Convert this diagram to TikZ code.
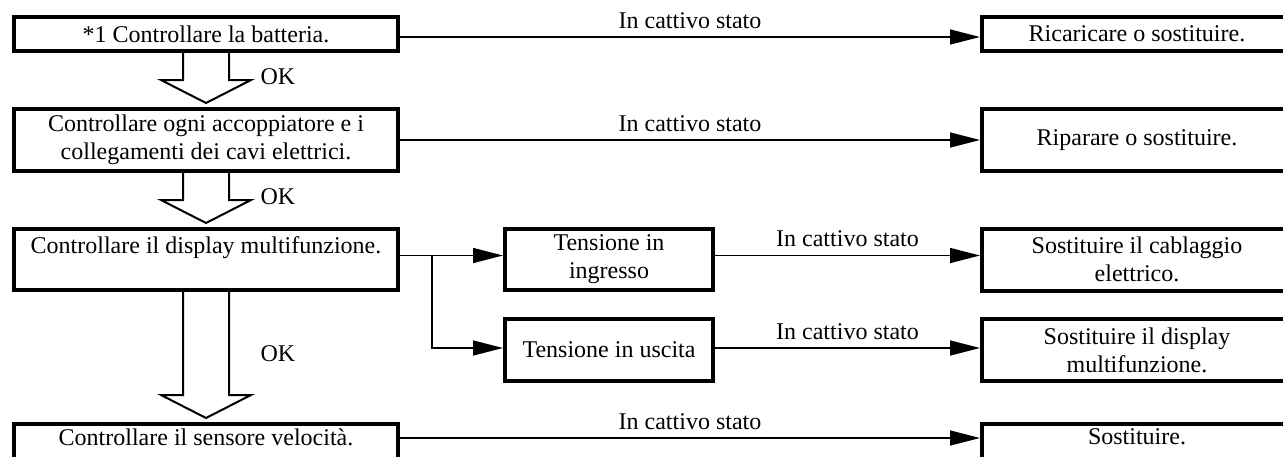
\documentclass[tikz,border=0pt]{standalone}
\usepackage{fontspec}
\setmainfont{Liberation Serif}
\usetikzlibrary{arrows.meta,calc,positioning}

% remedy boxes run off the right edge: text sits in the visible 310pt
\newcommand{\fixtext}[1]{\parbox{310pt}{\centering #1}\hspace{50pt}}
% last row runs off the bottom edge
\newcommand{\lowstrut}{\rule[-14pt]{0pt}{14pt}}

\tikzset{
  box/.style={draw, line width=4pt, inner sep=0pt, align=center, minimum height=34pt, font=\fontsize{24}{28}\selectfont},
  fixbox/.style={box, minimum width=360pt},
  flow/.style={line width=1.5pt, -{Triangle[length=30pt,width=15pt]}},
  bad/.style={midway, above=8pt, inner sep=0pt, font=\fontsize{24}{28}\selectfont},
  okarrow/.style={line width=2pt, line join=miter},
  oklabel/.style={inner sep=0pt, font=\fontsize{24}{28}\selectfont},
}

\begin{document}
\begin{tikzpicture}[x=1pt,y=-1pt]
\useasboundingbox (0,0) rectangle (1283,456);

% Checks (left column)
\node[box, minimum width=384pt] (chk1) at (206,34) {*1 Controllare la batteria.};
\node[box, minimum width=384pt, minimum height=62pt] (chk2) at (206,140) {Controllare ogni accoppiatore e i\\collegamenti dei cavi elettrici.};
\node[box, minimum width=384pt, minimum height=61pt] (chk3) at (206,259.5) {Controllare il display multifunzione.\\\mbox{}};
\node[box, minimum width=384pt, minimum height=40pt] (chk4) at (206,444) {Controllare il sensore velocità.\lowstrut};

% Voltage checks
\node[box, minimum width=208pt, minimum height=61pt] (tin) at (609,259.5) {Tensione in\\ingresso};
\node[box, minimum width=208pt, minimum height=62pt] (tout) at (609,350) {Tensione in uscita};

% Remedies (right column)
\node[fixbox] (fix1) at (1162,34) {\fixtext{Ricaricare o sostituire.}};
\node[fixbox, minimum height=62pt] (fix2) at (1162,140) {\fixtext{Riparare o sostituire.}};
\node[fixbox, minimum height=62pt] (fix3) at (1162,259.5) {\fixtext{Sostituire il cablaggio\\elettrico.}};
\node[fixbox, minimum height=62pt] (fix4) at (1162,350) {\fixtext{Sostituire il display\\multifunzione.}};
\node[fixbox, minimum height=40pt] (fix5) at (1162,444) {\fixtext{Sostituire.\lowstrut}};

% OK block arrows
\foreach \s/\t/\n in {chk1/chk2/1, chk2/chk3/2, chk3/chk4/3} {
  \draw[okarrow] ($(\s.south)+(-23,0)$) -- ($(\t.north)+(-23,-27)$) -- ($(\t.north)+(-45,-27)$)
    -- ($(\t.north)+(0,-4)$) -- ($(\t.north)+(45,-27)$) -- ($(\t.north)+(23,-27)$) -- ($(\s.south)+(23,0)$);
  \node[oklabel] (ok\n) at ($(\s.south)!0.5!(\t.north)+(72,-3)$) {OK};
}

% Bad state connectors
\draw[flow] ([yshift=-3pt]chk1.east) -- node[bad] {In cattivo stato} ([yshift=-3pt]chk1.east -| fix1.west);
\draw[flow] (chk2.east) -- node[bad] {In cattivo stato} (fix2.west);
\draw[flow] ([yshift=6pt]chk4.east) -- node[bad] {In cattivo stato} ([yshift=6pt]chk4.east -| fix5.west);
\draw[flow] ([yshift=4pt]chk3.east) -- ([yshift=4pt]chk3.east -| tin.west);
\coordinate (split) at ($([yshift=4pt]chk3.east)+(32,0)$);
\draw[flow] (split) |- ([yshift=2pt]tout.west);
\draw[flow] ([yshift=4pt]tin.east) -- node[bad] {In cattivo stato} ([yshift=4pt]tin.east -| fix3.west);
\draw[flow] ([yshift=2pt]tout.east) -- node[bad] {In cattivo stato} ([yshift=2pt]tout.east -| fix4.west);
\end{tikzpicture}
\end{document}
